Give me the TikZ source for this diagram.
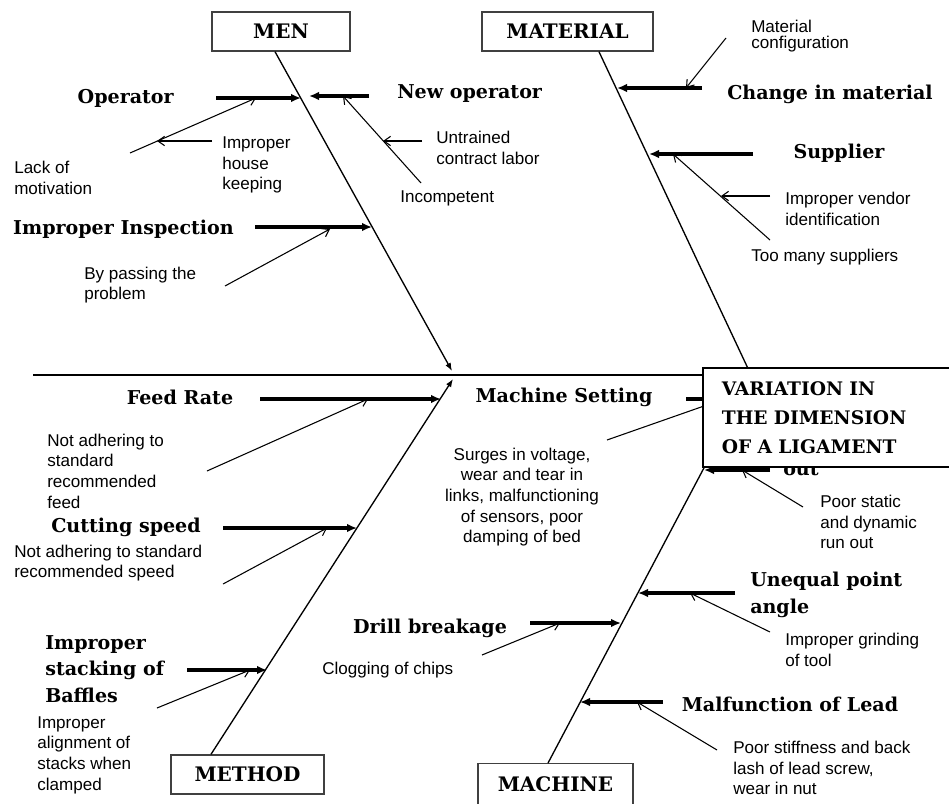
\documentclass[tikz,border=0pt]{standalone}
\usepackage{fontspec}
\setmainfont{Liberation Sans}
\newfontfamily\bonefont{DejaVu Serif}
\usetikzlibrary{arrows.meta}

\begin{document}
\begin{tikzpicture}[x=0.75pt,y=0.75pt,yscale=-1,xscale=1,
	catbox/.style={draw=black!75, fill=white, line width=1pt, minimum height=29.25pt, inner sep=0pt, font=\bonefont\bfseries\fontsize{15}{17}\selectfont},
	cause/.style={inner sep=0pt, align=left, font=\bonefont\bfseries\fontsize{14.3}{20}\selectfont},
	note/.style={inner sep=0pt, align=left, font=\fontsize{12.8}{15.5}\selectfont},
	spine/.style={line width=2.2pt},
	bone/.style={line width=1pt, -{Latex[length=6pt,width=4.5pt]}},
	branch/.style={line width=2.4pt, -{Latex[length=7.5pt,width=6.5pt]}},
	sub/.style={line width=0.8pt, -{Straight Barb[length=5pt,width=7pt]}}
	]
	\useasboundingbox (0,0) rectangle (949,803);
	\clip (0,0) rectangle (949,803);
	
	%Category boxes
	\node[catbox, minimum width=103.5pt] (men) at (281,31.5) {MEN};
	\node[catbox, minimum width=128.25pt] (material) at (567.5,31.5) {MATERIAL};
	\node[catbox, minimum width=114.75pt] (method) at (247.5,774.5) {METHOD};
	\node[catbox, minimum width=116.25pt, minimum height=45pt, text depth=15pt, anchor=north] (machine) at (555.5,763) {MACHINE};
	
	%Spine
	\coordinate (tail) at (33,375);
	\coordinate (spineend) at (730,375);
	\draw[spine] (tail) -- (spineend);
	
	%Bones
	\coordinate (menhit) at (452,371);
	\coordinate (methodhit) at (453,379);
	\coordinate (joint) at (752,377);
	\draw[bone] ([xshift=-4.5pt]men.south) -- (menhit);
	\draw[bone] ([xshift=-27.4pt]method.north) -- (methodhit);
	\draw[line width=1pt] ([xshift=23.6pt]material.south) -- (joint);
	\draw[line width=1pt] ([xshift=-5.6pt]machine.north) -- (joint);
	
	% MEN
	\node[cause, anchor=east] (operator) at (174,98) {Operator};
	\coordinate (opA) at (216,98);
	\coordinate (opB) at (301,98);
	\draw[branch] (opA) -- (opB);
	\node[cause, anchor=west] (newop) at (397,94) {New operator};
	\coordinate (newA) at (369,96);
	\coordinate (newB) at (309,96);
	\draw[branch] (newA) -- (newB);
	\node[cause] (inspection) at (123.5,229) {Improper Inspection};
	\coordinate (insA) at (255,227);
	\coordinate (insB) at (372,227);
	\draw[branch] (insA) -- (insB);
	
	% Text Node
	\node[note, anchor=west] (motivation) at (14,178) {Lack of\\motivation};
	\coordinate (motA) at (130,153);
	\coordinate (motB) at (256,98);
	\draw[sub] (motA) -- (motB);
	% Text Node
	\node[note, anchor=west] (housekeeping) at (222,165) {Improper\\house\\keeping};
	\coordinate (hkA) at (212,141);
	\coordinate (hkB) at (157,141);
	\draw[sub] (hkA) -- (hkB);
	% Text Node
	\node[note, anchor=west] (incompetent) at (400,198) {Incompetent};
	\coordinate (incA) at (421,183);
	\coordinate (incB) at (343,96);
	\draw[sub] (incA) -- (incB);
	% Text Node
	\node[note, anchor=west] (untrained) at (436,148) {Untrained\\contract labor};
	\coordinate (untA) at (422,141);
	\coordinate (untB) at (383,141);
	\draw[sub] (untA) -- (untB);
	% Text Node
	\node[note, anchor=west] (bypass) at (84,285) {By passing the\\problem};
	\coordinate (bypA) at (225,286);
	\coordinate (bypB) at (330,229);
	\draw[sub] (bypA) -- (bypB);
	
	% MATERIAL
	\node[cause] (changemat) at (830,94) {Change in material};
	\coordinate (chA) at (702,88);
	\coordinate (chB) at (617,88);
	\draw[branch] (chA) -- (chB);
	\node[cause] (supplier) at (839,153) {Supplier};
	\coordinate (supA) at (753,154);
	\coordinate (supB) at (649,154);
	\draw[branch] (supA) -- (supB);
	
	% Text Node
	\node[note, anchor=west, font=\fontsize{12.8}{12.5}\selectfont] (config) at (751,36) {Material\\configuration};
	\coordinate (cfgA) at (726,38);
	\coordinate (cfgB) at (686,88);
	\draw[sub] (cfgA) -- (cfgB);
	% Text Node
	\node[note, anchor=west] (toomany) at (751,257) {Too many suppliers};
	\coordinate (tmA) at (770,240);
	\coordinate (tmB) at (673,154);
	\draw[sub] (tmA) -- (tmB);
	% Text Node
	\node[note, anchor=west] (vendor) at (785,209) {Improper vendor\\identification};
	\coordinate (venA) at (770,196);
	\coordinate (venB) at (721,196);
	\draw[sub] (venA) -- (venB);
	
	% METHOD
	\node[cause] (feedrate) at (180,397) {Feed Rate};
	\coordinate (frA) at (260,399);
	\coordinate (frB) at (441,399);
	\draw[branch] (frA) -- (frB);
	\node[cause] (cutspeed) at (126,527) {Cutting speed};
	\coordinate (csA) at (223,528);
	\coordinate (csB) at (357,528);
	\draw[branch] (csA) -- (csB);
	\node[cause, anchor=west] (baffles) at (45,669) {Improper\\stacking of\\Baffles};
	\coordinate (bfA) at (187,670);
	\coordinate (bfB) at (267,670);
	\draw[branch] (bfA) -- (bfB);
	
	% Text Node
	\node[note, anchor=west] (feednote) at (47,471) {Not adhering to\\standard\\recommended\\feed};
	\coordinate (fnA) at (207,471);
	\coordinate (fnB) at (368,399);
	\draw[sub] (fnA) -- (fnB);
	% Text Node
	\node[note, anchor=west] (speednote) at (14,563) {Not adhering to standard\\recommended speed};
	\coordinate (snA) at (223,584);
	\coordinate (snB) at (327,528);
	\draw[sub] (snA) -- (snB);
	% Text Node
	\node[note, anchor=west] (alignment) at (37,755) {Improper\\alignment of\\stacks when\\clamped};
	\coordinate (alA) at (157,708);
	\coordinate (alB) at (250,670);
	\draw[sub] (alA) -- (alB);
	
	% MACHINE
	\node[cause] (setting) at (564,397) {Machine Setting};
	\coordinate (setA) at (686,399);
	\coordinate (setB) at (736,399);
	\draw[branch] (setA) -- (setB);
	\node[cause, anchor=base west] (runout) at (783,475) {out};
	\coordinate (roA) at (770,470);
	\coordinate (roB) at (704,470);
	\draw[branch] (roA) -- (roB);
	\node[cause, anchor=west] (pointangle) at (750,595) {Unequal point\\angle};
	\coordinate (paA) at (735,593);
	\coordinate (paB) at (638,593);
	\draw[branch] (paA) -- (paB);
	\node[cause] (drill) at (430,628) {Drill breakage};
	\coordinate (dbA) at (530,623);
	\coordinate (dbB) at (621,623);
	\draw[branch] (dbA) -- (dbB);
	\node[cause] (lead) at (790,704) {Malfunction of Lead};
	\coordinate (ldA) at (663,702);
	\coordinate (ldB) at (580,702);
	\draw[branch] (ldA) -- (ldB);
	
	% Text Node
	\node[note, align=center] (surges) at (522,497) {Surges in voltage,\\wear and tear in\\links, malfunctioning\\of sensors, poor\\damping of bed};
	\coordinate (sgA) at (607,440);
	\coordinate (sgB) at (724,399);
	\draw[sub] (sgA) -- (sgB);
	% Text Node
	\node[note, anchor=west] (static) at (820,522) {Poor static\\and dynamic\\run out};
	\coordinate (stA) at (803,507);
	\coordinate (stB) at (742,470);
	\draw[sub] (stA) -- (stB);
	% Text Node
	\node[note, anchor=west] (grinding) at (785,650) {Improper grinding\\of tool};
	\coordinate (grA) at (770,632);
	\coordinate (grB) at (690,593);
	\draw[sub] (grA) -- (grB);
	% Text Node
	\node[note, anchor=west] (clogging) at (322,670) {Clogging of chips};
	\coordinate (clA) at (482,655);
	\coordinate (clB) at (560,623);
	\draw[sub] (clA) -- (clB);
	% Text Node
	\node[note, anchor=west] (stiffness) at (733,768) {Poor stiffness and back\\lash of lead screw,\\wear in nut};
	\coordinate (sfA) at (717,750);
	\coordinate (sfB) at (637,702);
	\draw[sub] (sfA) -- (sfB);
	
	%Effect box (runs past the right edge)
	\node[fill=white, anchor=north west, text width=220pt, inner xsep=14pt, minimum height=74pt, align=left, font=\bonefont\bfseries\fontsize{14}{21.5}\selectfont] (effect) at (703,368) {VARIATION IN\\THE DIMENSION\\OF A LIGAMENT};
	\draw[line width=1.5pt] (effect.north east) -- (effect.north west) -- (effect.south west) -- (effect.south east);
	
\end{tikzpicture}
\end{document}
